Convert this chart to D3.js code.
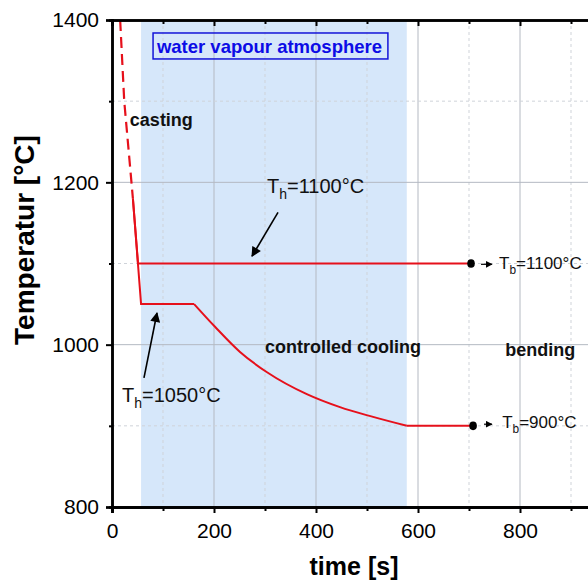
<!DOCTYPE html>
<html>
<head>
<meta charset="utf-8">
<script src="https://cdn.jsdelivr.net/npm/d3@7"></script>
<style>
  body { margin: 0; background: #fff; }
  svg { display: block; font-family: "Liberation Sans", Arial, sans-serif; }
</style>
</head>
<body>
<div id="chart"></div>
<script>
// ---- data (time in s, temperature in °C) ----
var castingDashed = [[16, 1400], [24, 1300], [41, 1180]];
var pathTh1100 = [[41, 1180], [51, 1100], [704, 1100]];
var pathTh1050 = [[41, 1180], [57, 1050], [161, 1050]];
var coolingCurve = [[161, 1050], [202, 1022], [251, 991], [304, 966], [382, 939],
  [447, 923], [512, 911], [578, 900]];
var holdTb900 = [[578, 900], [708, 900]];
var bendPoints = [[704, 1100], [708, 900]];
var atmosphereSpan = [57, 578];
var xMajorTicks = [0, 200, 400, 600, 800];
var xHiddenTicks = [1000];   // outside the window, tick only
var xMinorTicks = [100, 300, 500, 700, 900];
var yMajorTicks = [800, 1000, 1200, 1400];
var yMinorTicks = [900, 1100, 1300];

// svg container
var svgWidth = 588;
var svgHeight = 580;

var margin = { top: 20, left: 112 };
var width = 510;   // t = 0..1000, right part is cut off by the window
var height = 487;

var svg = d3.select("#chart")
  .append("svg")
  .attr("width", svgWidth)
  .attr("height", svgHeight);

var chartGroup = svg.append("g")
  .attr("transform", `translate(${margin.left}, ${margin.top})`);

var x = d3.scaleLinear().domain([0, 1000]).range([0, width]);
var y = d3.scaleLinear().domain([800, 1400]).range([height, 0]);

// water vapour region
chartGroup.append("rect")
  .attr("x", x(atmosphereSpan[0]))
  .attr("y", 0)
  .attr("width", x(atmosphereSpan[1]) - x(atmosphereSpan[0]))
  .attr("height", height)
  .attr("fill", "#d6e7fa");

// grid
var grid = chartGroup.append("g");
grid.selectAll(".gx").data(xMajorTicks.slice(1)).enter().append("line")
  .attr("x1", d => x(d)).attr("x2", d => x(d))
  .attr("y1", 0).attr("y2", height)
  .attr("stroke", "#b4b9c2").attr("stroke-width", 1);
grid.selectAll(".gxm").data(xMinorTicks).enter().append("line")
  .attr("x1", d => x(d)).attr("x2", d => x(d))
  .attr("y1", 0).attr("y2", height)
  .attr("stroke", "#cfd3d9").attr("stroke-width", 1)
  .attr("stroke-dasharray", "3,3");
grid.selectAll(".gy").data([1000, 1200]).enter().append("line")
  .attr("x1", 0).attr("x2", width)
  .attr("y1", d => y(d)).attr("y2", d => y(d))
  .attr("stroke", "#b4b9c2").attr("stroke-width", 1);
grid.selectAll(".gym").data(yMinorTicks).enter().append("line")
  .attr("x1", 0).attr("x2", width)
  .attr("y1", d => y(d)).attr("y2", d => y(d))
  .attr("stroke", "#cfd3d9").attr("stroke-width", 1)
  .attr("stroke-dasharray", "3,3");

// curves
var line = d3.line().x(d => x(d[0])).y(d => y(d[1]));
var smooth = d3.line().x(d => x(d[0])).y(d => y(d[1])).curve(d3.curveMonotoneX);
var red = "#e6101b";

chartGroup.append("path")
  .datum(castingDashed)
  .attr("d", line)
  .attr("fill", "none")
  .attr("stroke", red)
  .attr("stroke-width", 2.2)
  .attr("stroke-dasharray", "11,6");

[pathTh1100, pathTh1050, holdTb900].forEach(function(p) {
  chartGroup.append("path")
    .datum(p)
    .attr("d", line)
    .attr("fill", "none")
    .attr("stroke", red)
    .attr("stroke-width", 2);
});

chartGroup.append("path")
  .datum(coolingCurve)
  .attr("d", smooth)
  .attr("fill", "none")
  .attr("stroke", red)
  .attr("stroke-width", 2);

chartGroup.selectAll(".dot").data(bendPoints).enter().append("ellipse")
  .attr("cx", d => x(d[0]))
  .attr("cy", d => y(d[1]))
  .attr("rx", 3.8).attr("ry", 4.3)
  .attr("fill", "black");

// axes
var axisColor = "black";
var bottomAxis = d3.axisBottom(x).tickValues(xMajorTicks).tickSize(6).tickPadding(10).tickFormat(d3.format("d"));
var bottomHidden = d3.axisBottom(x).tickValues(xHiddenTicks).tickSize(6).tickFormat("");
var bottomMinor = d3.axisBottom(x).tickValues(xMinorTicks).tickSize(4).tickFormat("");
var leftAxis = d3.axisLeft(y).tickValues(yMajorTicks).tickSize(6).tickPadding(7).tickFormat(d3.format("d"));
var leftMinor = d3.axisLeft(y).tickValues(yMinorTicks).tickSize(3).tickFormat("");
var topAxis = d3.axisBottom(x).tickValues(xMajorTicks.concat(xHiddenTicks)).tickSize(6).tickFormat("");
var topMinor = d3.axisBottom(x).tickValues(xMinorTicks).tickSize(4).tickFormat("");

function styleAxis(g) {
  g.select(".domain").attr("stroke", axisColor).attr("stroke-width", 2.5);
  g.selectAll(".tick line").attr("stroke", axisColor).attr("stroke-width", 2);
  g.selectAll(".tick text").attr("fill", "black")
    .style("font-family", "'Liberation Sans', Arial, sans-serif")
    .style("font-size", "21px");
}

chartGroup.append("g").attr("transform", `translate(0, ${height})`).call(bottomMinor).call(styleAxis);
chartGroup.append("g").attr("transform", `translate(0, ${height})`).call(bottomHidden).call(styleAxis);
chartGroup.append("g").attr("transform", `translate(0, ${height})`).call(bottomAxis).call(styleAxis);
chartGroup.append("g").call(topMinor).call(styleAxis);
chartGroup.append("g").call(topAxis).call(styleAxis);
chartGroup.append("g").call(leftMinor).call(styleAxis);
chartGroup.append("g").call(leftAxis).call(styleAxis);

// axis titles
svg.append("text")
  .attr("x", 354)
  .attr("y", 575)
  .attr("text-anchor", "middle")
  .attr("font-size", "25px")
  .attr("font-weight", "bold")
  .text("time [s]");

svg.append("text")
  .attr("transform", "translate(34, 240) rotate(-90)")
  .attr("text-anchor", "middle")
  .attr("font-size", "28px")
  .attr("font-weight", "bold")
  .text("Temperatur [°C]");

// region labels
var labels = [
  { t: 35, T: 1269, text: "casting" },
  { t: 300, T: 990, text: "controlled cooling" },
  { t: 771, T: 986, text: "bending" }
];
chartGroup.selectAll(".lbl").data(labels).enter().append("text")
  .attr("x", d => x(d.t))
  .attr("y", d => y(d.T))
  .attr("font-size", "18px")
  .attr("font-weight", "bold")
  .attr("fill", "#111")
  .text(d => d.text);

// water vapour box
chartGroup.append("rect")
  .attr("x", x(80.5)).attr("y", y(1384))
  .attr("width", x(541) - x(80.5)).attr("height", y(1352) - y(1384))
  .attr("fill", "none").attr("stroke", "#1414d8").attr("stroke-width", 1.5);
chartGroup.append("text")
  .attr("x", x(88)).attr("y", y(1359))
  .attr("font-size", "18.5px")
  .attr("font-weight", "bold")
  .attr("fill", "#0c0ce6")
  .text("water vapour atmosphere");

// T labels with subscripts
var tLabels = [
  { t: 304, T: 1187, sub: "h", rest: "=1100°C", size: 20 },
  { t: 19.6, T: 929, sub: "h", rest: "=1050°C", size: 20 },
  { t: 759, T: 1093, sub: "b", rest: "=1100°C", size: 17 },
  { t: 765, T: 897, sub: "b", rest: "=900°C", size: 17 }
];
tLabels.forEach(function(d) {
  var txt = chartGroup.append("text")
    .attr("x", x(d.t))
    .attr("y", y(d.T))
    .attr("font-size", d.size + "px")
    .attr("fill", "#111");
  txt.append("tspan").text("T");
  txt.append("tspan").attr("font-size", (d.size * 0.7) + "px").attr("dy", d.size * 0.3).text(d.sub);
  txt.append("tspan").attr("dy", -d.size * 0.3).text(d.rest);
});

// arrows
svg.append("defs").append("marker")
  .attr("id", "head")
  .attr("viewBox", "0 0 10 10")
  .attr("refX", 9).attr("refY", 5)
  .attr("markerWidth", 7).attr("markerHeight", 7)
  .attr("markerUnits", "userSpaceOnUse")
  .attr("orient", "auto")
  .append("path")
  .attr("d", "M0,0 L10,5 L0,10 z")
  .attr("fill", "black");

svg.select("defs").append("marker")
  .attr("id", "bighead")
  .attr("viewBox", "0 0 10 10")
  .attr("refX", 9).attr("refY", 5)
  .attr("markerWidth", 12).attr("markerHeight", 10)
  .attr("markerUnits", "userSpaceOnUse")
  .attr("orient", "auto")
  .append("path")
  .attr("d", "M0,0 L10,5 L0,10 z")
  .attr("fill", "black");

var arrows = [
  { from: [325.5, 1163], to: [274.5, 1109], head: "bighead", w: 1.6 },
  { from: [62.7, 959], to: [88.2, 1039], head: "bighead", w: 1.6 },
  { from: [723.5, 1099], to: [745, 1099], head: "head", w: 1.2 },
  { from: [729.5, 902], to: [745, 902], head: "head", w: 1.2 }
];
chartGroup.selectAll(".arrow").data(arrows).enter().append("line")
  .attr("x1", d => x(d.from[0])).attr("y1", d => y(d.from[1]))
  .attr("x2", d => x(d.to[0])).attr("y2", d => y(d.to[1]))
  .attr("stroke", "black")
  .attr("stroke-width", d => d.w)
  .attr("marker-end", d => `url(#${d.head})`);
</script>
</body>
</html>
